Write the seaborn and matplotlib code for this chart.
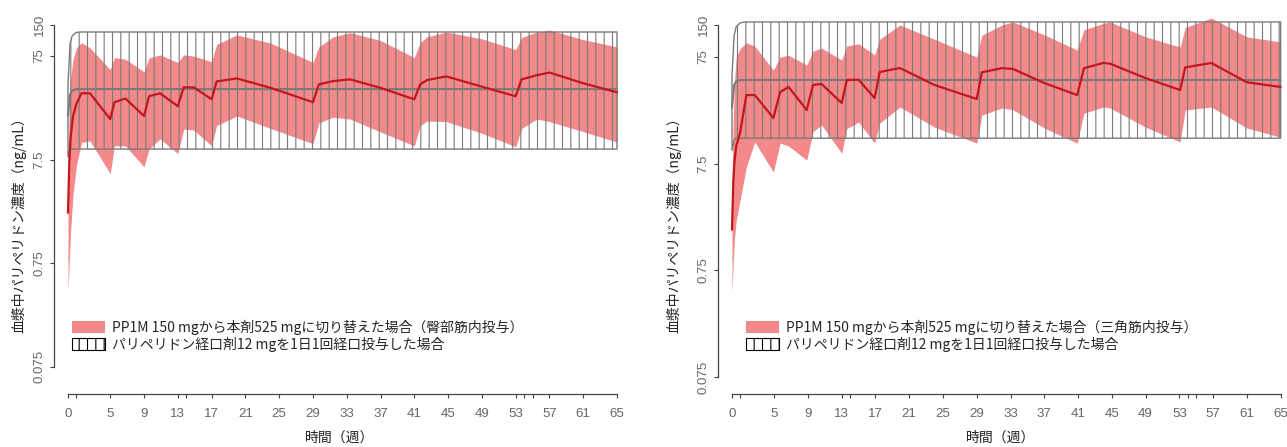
import matplotlib
matplotlib.use("Agg")
import matplotlib.pyplot as plt
from matplotlib.patches import Patch
from matplotlib.ticker import NullLocator
from matplotlib import font_manager
import seaborn as sns

# Estilo general
sns.set_style("ticks")
plt.rcParams['font.family'] = ['Noto Sans CJK JP', 'DejaVu Sans']
plt.rcParams['hatch.linewidth'] = 0.8

nombres = {f.name for f in font_manager.fontManager.ttflist}
FUENTE_TICKS = 'Liberation Sans Narrow' if 'Liberation Sans Narrow' in nombres else 'Liberation Sans'

# Colores
ROJO_BANDA = "#F3898A"
ROJO = "#C4161C"
GRIS = "#7A7A7A"

# --- Datos: PP1M 150 mg -> 本剤 525 mg, 臀部筋内投与 (panel izquierdo) ---
t_glut = [0, 0.15, 0.3, 0.6, 1.0, 1.6, 2.6, 5.0, 5.5, 6.8, 9.0, 9.6, 10.9, 13.0, 13.7, 14.9,
          17.0, 17.6, 20.0, 24.0, 29.0, 29.7, 31.4, 33.4, 37.0, 41.0, 41.7, 42.5, 44.8, 49.0,
          53.0, 53.7, 55.5, 57.0, 61.0, 65.0]
med_glut = [2.3, 7, 12, 19.8, 26, 32.8, 32.8, 18.5, 26.9, 29.2, 19.8, 30.7, 32.8, 24.6, 37.4, 37.4,
            28.7, 42.7, 45.6, 37, 26.9, 40, 43, 44.7, 37, 28.7, 40, 44, 47.7, 38,
            30.7, 44.7, 49, 52, 41, 33.5]
up_glut = [6, 28, 45, 70, 90, 101, 90, 55.6, 72.5, 70, 53, 72, 77, 65, 77, 75,
           66, 97, 120, 100, 65, 92, 115, 126, 106, 72.5, 101, 115, 128, 110,
           86.5, 113, 128, 134, 108, 92]
lo_glut = [0.4, 0.8, 1.5, 3.5, 6.6, 11, 11.4, 5.5, 10.2, 10.2, 6.4, 9.55, 11.9, 8.6, 14.8, 14.5,
           10.2, 16, 19.8, 15, 10.7, 17, 19.3, 18.5, 13.9, 10.2, 16, 17.7, 17.5, 13.5,
           10.0, 15, 18.5, 17.5, 14, 11.1]

# --- Datos: PP1M 150 mg -> 本剤 525 mg, 三角筋内投与 (panel derecho) ---
t_delt = [0, 0.15, 0.3, 0.5, 0.95, 1.7, 2.7, 4.9, 5.7, 6.7, 8.85, 9.6, 10.6, 13.0, 13.6, 15.0,
          16.9, 17.5, 19.9, 24.0, 29.0, 29.6, 32.0, 33.3, 37.0, 40.9, 41.7, 44.0, 44.8, 49.0,
          53.1, 53.7, 56.8, 61.0, 65.0]
med_delt = [1.8, 5, 8, 11, 14.5, 33, 33, 20.1, 35.2, 39.3, 23.9, 41, 42, 27.8, 45.7, 46,
            30.9, 54.3, 59.2, 41, 30.3, 54, 59, 58, 42.8, 33, 59, 66, 65, 47.6,
            36.8, 60, 66, 43.5, 39.3]
up_delt = [5, 20, 45, 75, 90, 102, 95, 56.6, 75, 78, 63, 85, 91, 70.4, 95, 100,
           78.5, 110, 150, 110, 75, 120, 150, 160, 121, 87.3, 135, 155, 160, 116,
           93, 142, 174, 116, 104]
lo_delt = [0.46, 0.9, 1.5, 2.2, 3.4, 7, 12, 6.25, 11.7, 11, 8.1, 15, 17.3, 9.4, 16, 18.4,
           11.7, 18, 25.5, 16.5, 11.7, 21.4, 25, 24, 16.2, 11.7, 22.3, 25.5, 25, 16.5,
           12, 23.9, 25.5, 16.2, 13.3]

# --- Datos: パリペリドン経口剤 12 mg 1日1回 ---
t_oral = [0, 0.25, 0.5, 1.0, 1.5, 65]
oral_up_l = [40, 100, 118, 127, 128, 128]
oral_med_l = [20, 32, 35, 36, 36, 36]
oral_lo_l = [8, 9.3, 9.5, 9.5, 9.5, 9.5]
oral_up_r = [50, 120, 145, 157, 160, 160]
oral_med_r = [25, 41, 44.5, 45.7, 45.7, 45.7]
oral_lo_r = [10, 12.5, 13, 13, 13, 13]

# Ejes
x_ticks = [0, 5, 9, 13, 17, 21, 25, 29, 33, 37, 41, 45, 49, 53, 57, 61, 65]
x_ticks_menores = [1, 14, 54, 55]
y_ticks = [0.075, 0.75, 7.5, 75, 150]
y_etiquetas = ["0.075", "0.75", "7.5", "75", "150"]

etiqueta_oral = "パリペリドン経口剤12 mgを1日1回経口投与した場合"
etiqueta_glut = "PP1M 150 mgから本剤525 mgに切り替えた場合（臀部筋内投与）"
etiqueta_delt = "PP1M 150 mgから本剤525 mgに切り替えた場合（三角筋内投与）"


def dibujar_panel(ax, t, lo, med, up, o_lo, o_med, o_up, etiqueta, xlim, ylim,
                  ylab_x, xlab_x, leg_x):
    ax.set_yscale('log')
    ax.fill_between(t, lo, up, color=ROJO_BANDA, lw=0, zorder=1)
    ax.fill_between(t_oral, o_lo, o_up, facecolor='none', edgecolor=GRIS,
                    hatch='||', lw=1.0, zorder=2)
    sns.lineplot(x=t_oral, y=o_med, ax=ax, color=GRIS, lw=1.5, zorder=3)
    sns.lineplot(x=t, y=med, ax=ax, color=ROJO, lw=1.6, zorder=4)

    ax.set_xlim(xlim)
    ax.set_ylim(ylim)
    ax.set_xticks(x_ticks)
    ax.set_xticklabels([str(v) for v in x_ticks])
    ax.set_xticks(x_ticks_menores, minor=True)
    ax.set_yticks(y_ticks)
    ax.set_yticklabels(y_etiquetas)
    ax.yaxis.set_minor_locator(NullLocator())

    ax.tick_params(axis='both', which='both', direction='out', length=3, width=0.8,
                   color='#444444', labelcolor='#666666', labelsize=9.5)
    ax.tick_params(axis='x', pad=7)
    ax.tick_params(axis='y', pad=3, labelrotation=90)
    for lab in ax.get_yticklabels():
        lab.set_va('center')
    for lab in ax.get_xticklabels() + ax.get_yticklabels():
        lab.set_fontfamily(FUENTE_TICKS)

    sns.despine(ax=ax)
    for lado in ['left', 'bottom']:
        ax.spines[lado].set_color('#444444')
        ax.spines[lado].set_linewidth(0.9)
    ax.spines['left'].set_bounds(0.075, 150)
    ax.spines['bottom'].set_bounds(0, 65)

    ax.set_ylabel("血漿中パリペリドン濃度（ng/mL）", fontsize=10, color='#222222')
    ax.yaxis.set_label_coords(ylab_x, 0.453)
    ax.set_xlabel("時間（週）", fontsize=10, color='#222222')
    ax.xaxis.set_label_coords(xlab_x, -0.097)

    handles = [Patch(facecolor=ROJO_BANDA, edgecolor='none'),
               Patch(facecolor='white', edgecolor='black', hatch='||', lw=0.8)]
    ax.legend(handles, [etiqueta, etiqueta_oral], loc='lower left',
              bbox_to_anchor=(leg_x, 0.11), frameon=False, fontsize=10,
              handlelength=2.4, handleheight=0.95, handletextpad=0.5,
              labelspacing=0.15, borderpad=0, borderaxespad=0)


fig = plt.figure(figsize=(12.87, 4.47), dpi=100)
ax_l = fig.add_axes([54 / 1287, 53 / 447, 567 / 1287, 380 / 447])
ax_r = fig.add_axes([718 / 1287, 53 / 447, 569 / 1287, 380 / 447])

dibujar_panel(ax_l, t_glut, lo_glut, med_glut, up_glut, oral_lo_l, oral_med_l, oral_up_l,
              etiqueta_glut, (-1.657, 65.47), (0.0411, 191), -0.0485, 0.503, 0.032)
dibujar_panel(ax_r, t_delt, lo_delt, med_delt, up_delt, oral_lo_r, oral_med_r, oral_up_r,
              etiqueta_delt, (-1.66, 65.76), (0.0519, 190), -0.064, 0.497, 0.049)

fig.savefig("out.png", dpi=100)
